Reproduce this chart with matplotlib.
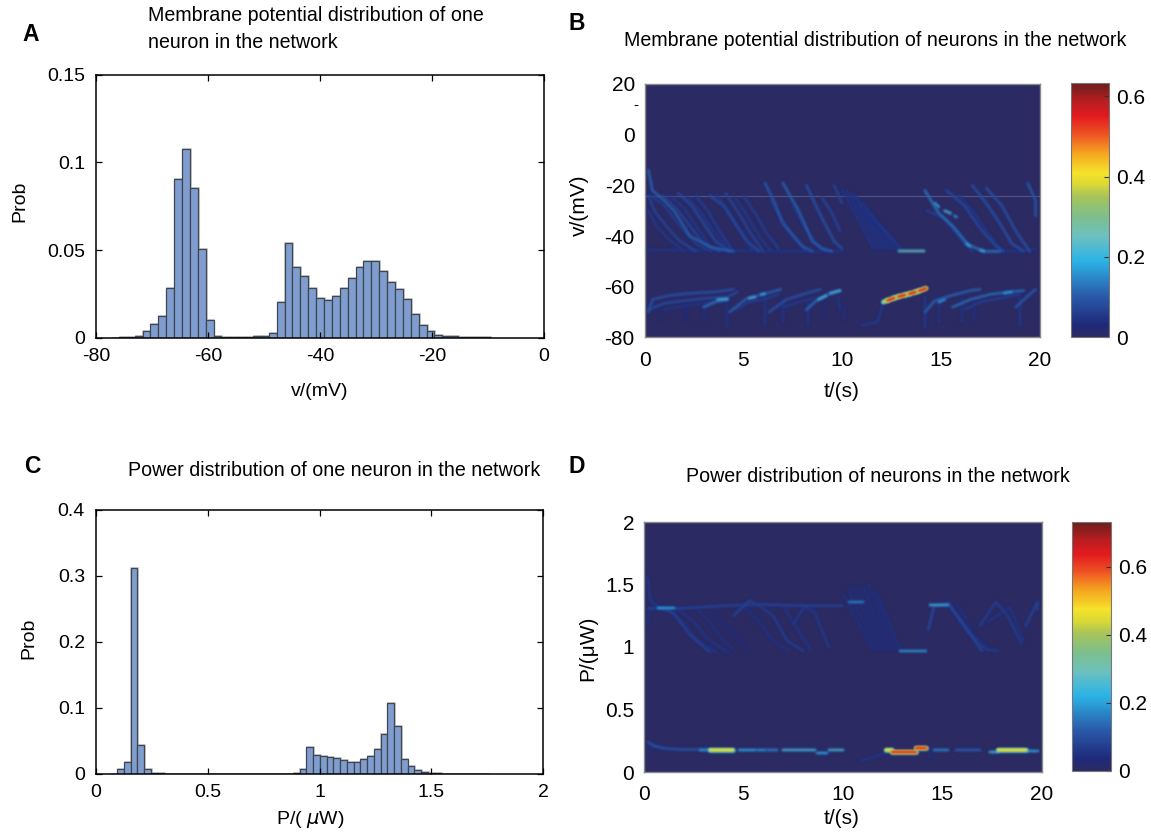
import numpy as np
import matplotlib
matplotlib.use("Agg")
import matplotlib.pyplot as plt
from matplotlib.cm import ScalarMappable
from matplotlib.colors import LinearSegmentedColormap, Normalize

plt.rcParams['font.family'] = ['Liberation Sans', 'DejaVu Sans']
plt.rcParams['mathtext.fontset'] = 'dejavusans'

W, H = 1151, 834

# histogram A
a_start = -77.33
a_width = 1.41
a_prob = [.0002, .0003, .0006, .0013, .0042, .008, .0123, .0284, .0903, .1076, .0852, .0506,
          .0102, .0011, .0006, .0005, .0007, .0008, .001, .0013, .0028, .0205, .054, .0403,
          .0356, .0285, .0228, .0217, .0238, .0283, .0344, .0405, .0439, .0439, .0382, .0321,
          .0279, .022, .0137, .0072, .0038, .0019, .0011, .001, .0006, .0004, .0005, .0003]

# histogram C
c_start = .0644
c_width = .0302
c_prob = [.0005, .0076, .0187, .312, .0444, .007, .0015, .001,
          .0004, .0004, .0003, .0003, .0003, .0003, .0003, .0003, .0003, .0003,
          .0003, .0003, .0003, .0003, .0003, .0003, .0003, .0004, .0005,
          .002, .0071, .0411, .0284, .0274, .0259, .0239, .0208, .0178, .0178, .0223, .0279,
          .0386, .0599, .1071, .0731, .0234, .0127, .0056, .0036, .002, .0015,
          .0006, .0005, .0005, .0005, .0005, .0005, .0004]

# heatmap ridges: (t values, y values, level)
b_falling = [
    ([0, .4, 1.0, 1.5, 2.3, 3.4, 4.5], [-14, -22, -26, -30, -40, -44.5, -46], .12),
    ([0, .5, 1.1, 1.8, 2.6], [-24, -30, -36, -42, -46], .08),
    ([0, .6, 1.2, 2.0], [-30, -36, -41, -46], .06),
    ([.3, 1.0, 1.8, 2.6, 3.4], [-24, -28, -36, -43, -46], .07),
    ([.9, 1.6, 2.3, 3.0, 3.8], [-24, -29, -36, -43, -46], .08),
    ([1.3, 2.0, 2.7, 3.3, 4.0], [-24, -29, -37, -44, -46], .06),
    ([1.7, 2.4, 3.0, 3.6, 4.3], [-23, -28, -35, -42, -46], .09),
    ([2.2, 2.8, 3.4, 4.0, 4.5], [-25, -30, -37, -43, -46], .06),
    ([2.6, 3.2, 3.8, 4.4], [-24, -30, -38, -45], .07),
    ([3.3, 4.0, 4.6, 5.2, 5.8], [-24, -28, -35, -42, -46], .09),
    ([3.7, 4.3, 4.9, 5.5], [-24, -31, -39, -46], .06),
    ([4.1, 4.7, 5.3, 6.0], [-23, -30, -38, -46], .08),
    ([4.6, 5.2, 5.8, 6.4], [-25, -32, -40, -46], .06),
    ([5.0, 5.6, 6.2, 6.8], [-24, -31, -39, -45], .07),
    ([6.1, 6.6, 7.0, 8.0, 8.5], [-19, -27, -35, -44, -46], .11),
    ([7.0, 7.8, 8.5, 9.0, 9.5], [-19, -30, -42, -45, -46], .12),
    ([6.4, 7.0, 7.6, 8.2], [-26, -34, -41, -46], .07),
    ([7.5, 8.1, 8.7, 9.2], [-28, -36, -43, -46], .06),
    ([8.2, 8.8, 9.6, 10], [-20, -30, -42, -45], .1),
    ([9.0, 9.5, 9.9], [-25, -31, -38], .08),
    ([9.6, 10], [-20, -27], .08),
    ([0, 2, 4, 6, 8, 10], [-45.5, -45.5, -45.5, -46, -46, -46], .05),
    ([14.2, 14.9, 15.6, 16.4, 17.2, 18.0], [-22, -31, -36, -43.5, -46, -46], .14),
    ([14.3, 15.2, 16.0, 16.6], [-30, -33, -41, -46], .07),
    ([15.3, 16.2, 17.0, 17.8, 18.2], [-22, -28, -37, -44, -46], .09),
    ([15.9, 16.7, 17.4, 18.1], [-24, -31, -39, -46], .06),
    ([16.6, 17.3, 18.0, 18.6, 19.2], [-20, -27, -35, -43, -46], .1),
    ([17.3, 18.1, 18.8, 19.5], [-21, -28, -38, -46], .1),
    ([19.4, 19.8, 20], [-19, -26, -32], .11),
    ([18, 19, 20], [-46, -46, -45], .05),
]
# faint wedge between 10 s and 12.5 s, start and end of each falling trace
b_patch_t = [10.05, 10.25, 10.45, 10.65, 10.85, 11.05, 11.25, 11.45, 11.65, 11.85]
b_patch_end = [11.6, 11.8, 12.0, 12.15, 12.3, 12.4, 12.55, 12.7, 12.85, 13.0]
b_patch_top = [-22, -22, -23, -24, -26, -27, -29, -31, -33, -35]
b_lower = [
    ([0, .4, 1.2, 2.4, 3.6, 4.5], [-70, -65, -63.5, -62.5, -62, -61], .1),
    ([.2, 1.0, 2.0, 3.2, 4.2, 4.7], [-69, -66.5, -65.5, -64.5, -64, -62], .09),
    ([1.0, 2.0, 3.0, 4.0], [-69, -67.5, -66.5, -66], .05),
    ([3.0, 3.7, 4.2], [-68, -65.5, -65], .14),
    ([4.3, 5.2, 6.0, 6.9], [-70, -64.5, -63, -61], .12),
    ([4.6, 5.3, 6.0, 6.8], [-69, -66, -65, -63], .07),
    ([6.3, 7.2, 8.0, 8.9], [-70, -65, -63, -61], .1),
    ([7.0, 7.8, 8.6], [-68, -66, -64.5], .06),
    ([8.2, 8.7, 9.3, 9.9], [-69, -65.5, -63, -61.5], .13),
    ([9.9, 9.8], [-69, -64], .05),
    ([14.2, 14.7, 15.5, 16.5, 17], [-70, -65.5, -63.5, -61.5, -61], .12),
    ([15.6, 16.5, 17.5, 18.5, 19.2], [-68, -65, -63, -62, -61.5], .13),
    ([16.2, 17.0, 18.0, 19.0], [-69, -66, -64.5, -63], .07),
    ([18.8, 19.5, 20], [-68, -63, -61], .11),
    ([.8, .8], [-66, -73], .03), ([2.1, 2.1], [-66, -74], .03), ([3.0, 3.0], [-66, -74], .04),
    ([4.2, 4.2], [-64, -76], .05), ([6.1, 6.1], [-64, -75], .05), ([7.0, 7.0], [-65, -74], .05),
    ([8.3, 8.3], [-66, -75], .05), ([9.1, 9.1], [-65, -72], .03), ([10.1, 10.1], [-68, -73], .04),
    ([11.0, 11.8, 12.1], [-75, -74, -66], .06), ([14.2, 14.2], [-64, -76], .06),
    ([14.9, 14.9], [-65, -74], .05), ([16.1, 16.1], [-65, -74], .05), ([16.7, 16.7], [-65, -73], .04),
    ([19.0, 19.0], [-64, -75], .06),
]
b_hot = [
    ([12.1, 12.3], [-66, -65.4], .38), ([12.3, 12.65], [-65.4, -64.4], .56),
    ([12.65, 12.85], [-64.4, -63.9], .42), ([12.85, 13.2], [-63.9, -63.2], .56),
    ([13.2, 13.4], [-63.2, -62.8], .42), ([13.4, 13.75], [-62.8, -62], .56),
    ([13.75, 13.9], [-62, -61.6], .42), ([13.9, 14.25], [-61.6, -60.6], .56),
    ([12.9, 14.15], [-45.9, -45.9], .27),
    ([14.7, 14.9], [-27, -28.5], .2), ([15.2, 15.5], [-30, -31], .22), ([15.7, 15.8], [-32, -32.5], .18),
    ([16.3, 16.5], [-43, -44], .2), ([17.0, 17.2], [-45.5, -46], .2), ([14.9, 15.2], [-66, -65], .18),
    ([3.7, 4.2], [-65, -64.8], .22), ([5.3, 5.6], [-64.5, -64], .22), ([5.9, 6.1], [-63, -62.7], .2),
    ([8.8, 9.2], [-65, -63.5], .22), ([9.4, 9.9], [-62.5, -61.5], .22),
    ([18.2, 18.6], [-62.5, -62], .18),
]

d_upper = [
    ([0, 2, 4, 6, 8, 10], [1.31, 1.31, 1.33, 1.34, 1.33, 1.33], .09),
    ([0, .3, .7], [1.55, 1.38, 1.32], .07),
    ([0, .3, .7], [1.2, 1.3, 1.33], .05),
    ([.7, 1.5, 2.3, 3.3], [1.32, 1.27, 1.1, .96], .09),
    ([1.1, 1.9, 2.7, 3.6], [1.32, 1.2, 1.05, .96], .06),
    ([1.6, 2.5, 3.3, 4.2], [1.32, 1.2, 1.05, .96], .06),
    ([2.7, 3.3, 4.0, 4.6], [1.3, 1.2, 1.05, .97], .05),
    ([3.5, 4.0, 4.8, 5.2], [1.28, 1.18, 1.05, .97], .04),
    ([5.7, 6.5, 7.2, 8.0], [1.34, 1.25, 1.05, .97], .08),
    ([5.0, 5.8, 6.5, 7.3], [1.33, 1.2, 1.05, .97], .05),
    ([7.0, 7.7, 8.4], [1.33, 1.15, .97], .06),
    ([7.5, 8.1, 8.6, 9.3], [1.18, 1.33, 1.27, 1.0], .07),
    ([4.5, 5.3, 5.6], [1.25, 1.37, 1.35], .09),
    ([14.3, 14.6, 15.3, 16.0, 17.0], [1.14, 1.33, 1.35, 1.2, .97], .1),
    ([15.3, 16.3, 17.2, 17.8], [1.35, 1.12, .98, .97], .08),
    ([15.8, 16.6, 17.4], [1.33, 1.1, .98], .05),
    ([16.9, 17.7, 18.3, 19.0], [1.17, 1.36, 1.25, 1.03], .08),
    ([17.3, 18.4, 19.1], [1.2, 1.32, 1.05], .06),
    ([19.2, 19.9, 20], [1.17, 1.36, 1.3], .09),
]
d_patch_t = [10.05, 10.3, 10.55, 10.8, 11.05, 11.3, 11.55, 11.8]
d_patch_end = [11.5, 11.7, 11.9, 12.1, 12.3, 12.5, 12.7, 12.9]
d_patch_top = [1.42, 1.45, 1.48, 1.48, 1.48, 1.5, 1.45, 1.4]
d_hot = [
    ([.72, 1.5], [1.315, 1.315], .22), ([10.3, 11.0], [1.36, 1.36], .18),
    ([14.4, 15.3], [1.34, 1.34], .24), ([12.9, 14.2], [.965, .965], .2),
    ([0, .5, 1.0, 1.8, 2.8, 3.3], [.24, .21, .19, .18, .18, .18], .12),
    ([0, .5, 1.0], [.21, .2, .19], .06),
    ([3.3, 4.5], [.18, .18], .47), ([2.8, 3.3], [.18, .18], .2), ([4.8, 5.6], [.18, .18], .22),
    ([5.7, 6.1], [.18, .18], .2), ([6.2, 6.7], [.18, .18], .18),
    ([7.0, 8.6], [.18, .18], .26), ([8.7, 9.2], [.15, .15], .22),
    ([9.3, 10], [.18, .18], .26),
    ([10.9, 11.6, 12.1], [.09, .12, .15], .06),
    ([12.2, 12.5], [.18, .18], .47), ([12.5, 13.7], [.16, .16], .64),
    ([13.7, 14.2], [.19, .19], .64),
    ([14.6, 15.3], [.18, .18], .18), ([15.7, 16.9], [.18, .18], .13),
    ([17.4, 17.8], [.16, .16], .26), ([17.8, 19.2], [.18, .18], .47),
    ([19.3, 20], [.17, .17], .22), ([9, 9.2], [.18, .13], .05), ([14.3, 14.4], [.2, .12], .05),
]

# colour stops as (value, colour), scaled to each colour bar
jet_values = [0, .03, .1, .19, .25, .3, .35, .38, .41, .46, .5, .55, .59, .632]
jet_colors = ["#2b2a63", "#1f2a7a", "#2a57a8", "#2bb3e6", "#6cc0c0", "#7dbf8c", "#a8c45a",
              "#d9d836", "#f5e32a", "#f5a41f", "#ef5c23", "#e31b1f", "#b51d20", "#6b1f1c"]
cmap = LinearSegmentedColormap.from_list(
    "print_jet", [(v / jet_values[-1], c) for v, c in zip(jet_values, jet_colors)])

fig = plt.figure(figsize=(W / 100, H / 100), dpi=100)


def axes_px(left, top, right, bottom):
    return fig.add_axes([left / W, 1 - bottom / H, (right - left) / W, (bottom - top) / H])


def put_text(x, y, s, **kw):
    kw.setdefault("ha", "center")
    kw.setdefault("va", "center")
    fig.text(x / W, 1 - y / H, s, **kw)


def hist_panel(ax, start, width, prob, xlim, ylim, xticks, yticks, xlabels):
    lefts = start + width * np.arange(len(prob))
    ax.bar(lefts + width * .12, prob, width, align="edge", color="none", edgecolor="#c4c4c4", linewidth=1.2)
    ax.bar(lefts, prob, width, align="edge", color="#809dcf", edgecolor="#3f4650", linewidth=.9)
    ax.set_xlim(*xlim)
    ax.set_ylim(*ylim)
    ax.set_xticks(xticks, xlabels)
    ax.set_yticks(yticks, [f"{t:g}" for t in yticks])
    ax.tick_params(direction="in", top=True, right=True, length=4.5, width=.9, labelsize=14, pad=7)
    ax.tick_params(axis="y", pad=8)
    for s in ax.spines.values():
        s.set_linewidth(1.1)


def soften(im, dpi):
    # small blur, the original heatmap is a low resolution raster
    pad = 4
    kernel = np.array([.06, .24, .4, .24, .06])
    out = np.pad(im, ((pad, pad), (pad, pad), (0, 0)))
    out[..., :3] *= out[..., 3:]
    for axis in (0, 1):
        out = np.apply_along_axis(lambda m: np.convolve(m, kernel, mode="same"), axis, out)
    alpha = np.clip(out[..., 3:], 1e-4, 1)
    out[..., :3] = np.clip(out[..., :3] / alpha, 0, 1)
    return out, -pad, -pad


def draw_ridges(ax, ridges, vmax):
    norm = Normalize(0, vmax)
    # soft halo falling off to lower levels, hot cores on top
    for ts, ys, level in sorted(ridges, key=lambda r: r[2]):
        layers = [(3.2, .5, .4), (1.6, 1, .75)]
        if level > .3:
            layers = [(3.6, .5, .8), (2.6, .75, .95), (1.7, 1, 1)]
        # keep the blur inside the frame
        ts = np.clip(ts, .2, 19.8)
        for lw, frac, alpha in layers:
            line, = ax.plot(ts, ys, color=cmap(norm(level * frac)), lw=lw, alpha=alpha,
                            solid_capstyle="round", solid_joinstyle="round")
            line.set_agg_filter(soften)


def heat_panel(ax, ridges, vmax, ylim, yticks, cax, cticks, xpad):
    ax.set_facecolor(cmap(0))
    draw_ridges(ax, ridges, vmax)
    ax.set_xlim(0, 20)
    ax.set_ylim(*ylim)
    ax.set_xticks([0, 5, 10, 15, 20])
    ax.set_yticks(yticks, [f"{t:g}" for t in yticks])
    ax.tick_params(length=0, labelsize=15, pad=7)
    ax.tick_params(axis="x", pad=xpad)
    for s in ax.spines.values():
        s.set_color("#8a8a8a")
        s.set_linewidth(1)
    cb = fig.colorbar(ScalarMappable(Normalize(0, vmax), cmap), cax=cax)
    cb.set_ticks(cticks, labels=[f"{t:g}" for t in cticks])
    cax.tick_params(length=3.5, width=.8, labelsize=15, pad=5, direction="in", color="#333333")
    cb.outline.set_edgecolor("#777777")
    cb.outline.set_linewidth(.8)


ax_a = axes_px(96, 74.7, 543.7, 338)
hist_panel(ax_a, a_start, a_width, a_prob, (-80, 0), (0, .15),
           [-80, -60, -40, -20, 0], [0, .05, .1, .15], ["-80", "-60", "-40", "-20", "0"])
ax_c = axes_px(96, 510, 543.3, 774)
hist_panel(ax_c, c_start, c_width, c_prob, (0, 2), (0, .4),
           [0, .5, 1, 1.5, 2], [0, .1, .2, .3, .4], ["0", "0.5", "1", "1.5", "2"])

ax_b = axes_px(644.5, 84, 1039.5, 337.5)
cax_b = axes_px(1071, 83.3, 1109, 337.3)
b_patch = [([t0, t1], [top, -45], .055) for t0, t1, top in zip(b_patch_t, b_patch_end, b_patch_top)]
heat_panel(ax_b, b_falling + b_patch + b_lower + b_hot, .632, (-80, 20), [-80, -60, -40, -20, 0, 20],
           cax_b, [0, .2, .4, .6], 10)
ax_b.axhline(-24, color="#4f5384", lw=.9, zorder=1.5)

ax_d = axes_px(644, 522, 1041.5, 772)
cax_d = axes_px(1072, 522, 1111, 770.7)
d_patch = [([t0, t1], [top, .98], .05) for t0, t1, top in zip(d_patch_t, d_patch_end, d_patch_top)]
heat_panel(ax_d, d_upper + d_patch + d_hot, .7315, (0, 2), [0, .5, 1, 1.5, 2], cax_d, [0, .2, .4, .6], 9)

for x, y, s in [(31, 34.5, "A"), (577, 23.5, "B"), (32, 466.5, "C"), (577, 466.5, "D")]:
    put_text(x, y, s, fontsize=16.5, fontweight="bold")

put_text(148, 29, "Membrane potential distribution of one\nneuron in the network", ha="left", fontsize=14.1, linespacing=1.5)
put_text(875.5, 40, "Membrane potential distribution of neurons in the network", fontsize=14.1)
put_text(334, 470, "Power distribution of one neuron in the network", fontsize=14.1)
put_text(878, 477, "Power distribution of neurons in the network", fontsize=14.1)

put_text(20, 201, "Prob", fontsize=14, rotation=90)
put_text(29, 638, "Prob", fontsize=14, rotation=90)
put_text(320, 392, "v/(mV)", fontsize=14)
put_text(310, 820, r"P/( $\mu$W)", fontsize=14)
put_text(842, 392, "t/(s)", fontsize=15)
put_text(842, 818, "t/(s)", fontsize=15)
put_text(579, 205, "v/(mV)", fontsize=15, rotation=90)
put_text(588, 648, "P/(\u03bcW)", fontsize=15, rotation=90)
put_text(636, 105, "-", fontsize=11)

fig.savefig("out.png", dpi=100)
